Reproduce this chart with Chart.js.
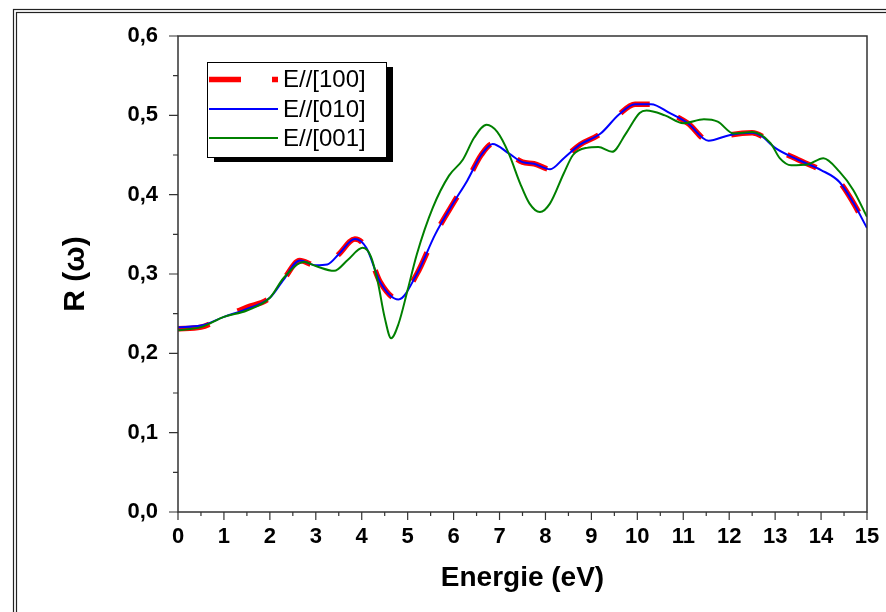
<!DOCTYPE html>
<html>
<head>
<meta charset="utf-8">
<script src="https://cdn.jsdelivr.net/npm/chart.js@4.4.1/dist/chart.umd.min.js"></script>
<style>
  html, body { margin: 0; padding: 0; background: #fff; }
  canvas { display: block; }
</style>
</head>
<body>
<canvas id="reflChart" width="886" height="612"></canvas>
<script>
// energies (eV) for the E//[100] and E//[010] curves
const energyXY = [0, 0.5, 1, 1.5, 2, 2.3, 2.65, 3.0, 3.25, 3.5, 3.85, 4.1, 4.4, 4.8, 5.2, 5.6, 6.0, 6.3, 6.6, 6.85,
    7.2, 7.5, 7.75, 8.1, 8.4, 8.75, 9.2, 9.6, 9.95, 10.3, 10.7, 11.1, 11.55, 12.0, 12.5, 12.7, 13.0, 13.5, 14.0, 14.4, 14.7, 15.0];
const r100 = [0.231, 0.233, 0.246, 0.258, 0.270, 0.293, 0.317, 0.311, 0.312, 0.325, 0.344, 0.333, 0.290, 0.268, 0.300, 0.350, 0.390, 0.418, 0.450, 0.464,
    0.452, 0.441, 0.439, 0.432, 0.446, 0.463, 0.477, 0.501, 0.514, 0.514, 0.503, 0.490, 0.468, 0.475, 0.478, 0.474, 0.459, 0.444, 0.431, 0.416, 0.390, 0.358];
const r010 = [0.233, 0.235, 0.246, 0.256, 0.270, 0.293, 0.317, 0.311, 0.312, 0.325, 0.344, 0.333, 0.290, 0.268, 0.300, 0.350, 0.390, 0.418, 0.450, 0.464,
    0.452, 0.441, 0.439, 0.432, 0.446, 0.463, 0.477, 0.501, 0.514, 0.514, 0.503, 0.490, 0.468, 0.475, 0.478, 0.474, 0.459, 0.444, 0.431, 0.416, 0.390, 0.358];

// energies (eV) for the E//[001] curve
const energyZ = [0, 0.5, 1, 1.5, 2, 2.3, 2.75, 3.0, 3.4, 3.7, 4.02, 4.2, 4.35, 4.5, 4.64, 4.8, 5.0, 5.2, 5.55, 5.9,
    6.2, 6.45, 6.72, 6.95, 7.2, 7.45, 7.65, 7.88, 8.1, 8.4, 8.6, 8.9, 9.15, 9.45, 9.75, 10.05, 10.2, 10.6, 11.0, 11.45,
    11.75, 12.1, 12.5, 12.9, 13.1, 13.35, 13.7, 14.05, 14.4, 14.7, 15.0];
const r001 = [0.229, 0.233, 0.246, 0.254, 0.270, 0.295, 0.315, 0.310, 0.304, 0.318, 0.333, 0.322, 0.290, 0.245, 0.219, 0.237, 0.280, 0.325, 0.384, 0.424,
    0.444, 0.472, 0.488, 0.479, 0.452, 0.414, 0.389, 0.378, 0.389, 0.427, 0.450, 0.459, 0.460, 0.454, 0.477, 0.503, 0.506, 0.500, 0.490, 0.495,
    0.492, 0.477, 0.479, 0.465, 0.446, 0.437, 0.438, 0.446, 0.429, 0.406, 0.372];

const seriesLabels = ['E//[100]', 'E//[010]', 'E//[001]'];
const xTickValues = [0, 1, 2, 3, 4, 5, 6, 7, 8, 9, 10, 11, 12, 13, 14, 15];
const yTickValues = [0, 0.1, 0.2, 0.3, 0.4, 0.5, 0.6];
const yTickLabels = ['0,0', '0,1', '0,2', '0,3', '0,4', '0,5', '0,6'];

const FONT = "'Liberation Sans', Arial, sans-serif";

const toPoints = (xs, ys) => xs.map((x, i) => ({ x: x, y: ys[i] }));

// axis box, outward major/minor ticks, legend with shadow, page frame
const decor = {
    id: 'decor',
    afterDraw(chart) {
        const { ctx, chartArea: a, scales } = chart;
        ctx.save();

        // double frame round the figure
        ctx.strokeStyle = '#222';
        ctx.lineWidth = 1.2;
        ctx.strokeRect(13.5, 9.5, 1000, 1000);
        ctx.strokeRect(16.5, 12.5, 1000, 1000);

        ctx.strokeStyle = '#333';
        ctx.lineWidth = 1.5;
        ctx.strokeRect(a.left, a.top, a.right - a.left, a.bottom - a.top);

        const xs = scales.x, ys = scales.y;
        ctx.lineWidth = 1.2;
        ctx.beginPath();
        xs.ticks.forEach((t, i) => {
            const px = xs.getPixelForValue(t.value);
            ctx.moveTo(px, a.bottom); ctx.lineTo(px, a.bottom + 8);
            if (i < xs.ticks.length - 1) {
                const mx = xs.getPixelForValue((t.value + xs.ticks[i + 1].value) / 2);
                ctx.moveTo(mx, a.bottom); ctx.lineTo(mx, a.bottom + 4);
            }
        });
        ys.ticks.forEach((t, i) => {
            const py = ys.getPixelForValue(t.value);
            ctx.moveTo(a.left, py); ctx.lineTo(a.left - 9, py);
            if (i < ys.ticks.length - 1) {
                const my = ys.getPixelForValue((t.value + ys.ticks[i + 1].value) / 2);
                ctx.moveTo(a.left, my); ctx.lineTo(a.left - 5, my);
            }
        });
        ctx.stroke();

        // legend
        const bx = a.left + 29, by = a.top + 26, bw = 179, bh = 95;
        ctx.fillStyle = '#000';
        ctx.fillRect(bx + 7, by + 5, bw, bh);
        ctx.fillStyle = '#fff';
        ctx.fillRect(bx, by, bw, bh);
        ctx.strokeStyle = '#000';
        ctx.lineWidth = 1;
        ctx.strokeRect(bx + 0.5, by + 0.5, bw, bh);

        const rows = [17.5, 47, 76];
        chart.data.datasets.forEach((ds, i) => {
            const yy = by + rows[i];
            ctx.strokeStyle = ds.borderColor;
            ctx.lineWidth = ds.borderWidth;
            ctx.setLineDash(ds.borderDash || []);
            ctx.beginPath();
            ctx.moveTo(bx + 2, yy);
            ctx.lineTo(bx + 71, yy);
            ctx.stroke();
            ctx.setLineDash([]);
            ctx.fillStyle = '#000';
            ctx.font = '24px ' + FONT;
            ctx.textBaseline = 'middle';
            ctx.fillText(ds.label, bx + 76, yy + 1);
        });

        ctx.restore();
    }
};

new Chart(document.getElementById('reflChart'), {
    type: 'line',
    data: {
        datasets: [{
            label: seriesLabels[0],
            data: toPoints(energyXY, r100),
            borderColor: '#ff0000',
            borderWidth: 5.5,
            borderDash: [32, 31],
            order: 3
        }, {
            label: seriesLabels[1],
            data: toPoints(energyXY, r010),
            borderColor: '#0000ff',
            borderWidth: 2,
            order: 2
        }, {
            label: seriesLabels[2],
            data: toPoints(energyZ, r001),
            borderColor: '#008000',
            borderWidth: 2,
            order: 1
        }]
    },
    options: {
        responsive: false,
        animation: false,
        layout: { padding: { left: 0, top: 36, right: 19, bottom: 0 } },
        elements: {
            point: { radius: 0 },
            line: { cubicInterpolationMode: 'monotone', fill: false }
        },
        plugins: {
            legend: { display: false },
            tooltip: { enabled: false }
        },
        scales: {
            x: {
                type: 'linear',
                min: 0,
                max: 15,
                afterFit: (s) => { s.height = 100; s.paddingLeft = 0; s.paddingRight = 0; },
                afterBuildTicks: (s) => { s.ticks = xTickValues.map(v => ({ value: v })); },
                grid: { display: false, drawTicks: false },
                border: { display: false },
                ticks: {
                    autoSkip: false,
                    maxRotation: 0,
                    padding: 12,
                    color: '#000',
                    font: { family: FONT, size: 22, weight: 'bold' },
                    callback: (v) => String(v)
                },
                title: {
                    display: true,
                    text: 'Energie (eV)',
                    color: '#000',
                    font: { family: FONT, size: 28, weight: 'bold' },
                    padding: { top: 0, bottom: 17 }
                }
            },
            y: {
                min: 0,
                max: 0.6,
                afterFit: (s) => { s.width = 178; },
                afterBuildTicks: (s) => { s.ticks = yTickValues.map(v => ({ value: v })); },
                grid: { display: false, drawTicks: false },
                border: { display: false },
                ticks: {
                    padding: 20,
                    color: '#000',
                    font: { family: FONT, size: 22, weight: 'bold' },
                    callback: (v) => yTickLabels[yTickValues.findIndex(t => Math.abs(t - v) < 1e-9)]
                },
                title: {
                    display: true,
                    text: 'R (ω)',
                    color: '#000',
                    font: { family: FONT, size: 30, weight: 'bold' },
                    padding: { top: 58, bottom: 0 }
                }
            }
        }
    },
    plugins: [decor]
});
</script>
</body>
</html>
